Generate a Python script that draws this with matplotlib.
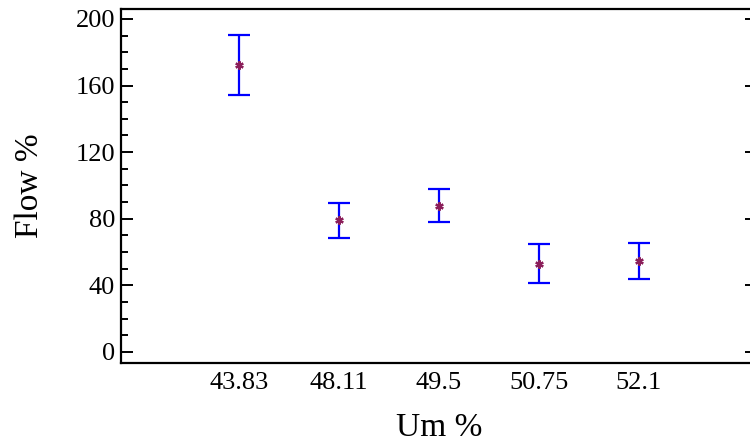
import matplotlib
matplotlib.use("Agg")
import matplotlib.pyplot as plt
from matplotlib.ticker import MultipleLocator

# Werte
um_labels = ["43.83", "48.11", "49.5", "50.75", "52.1"]
flow_mean = [172.5, 79.0, 87.4, 52.7, 54.8]
flow_low = [154.5, 68.2, 77.8, 41.6, 43.8]
flow_high = [190.5, 89.7, 98.1, 64.7, 65.6]

plt.rcParams["font.family"] = ["Liberation Serif", "DejaVu Serif"]

fig = plt.figure(figsize=(7.5, 4.47), dpi=100)
ax = fig.add_axes([0.161, 0.189, 0.848, 0.791])

x = list(range(len(um_labels)))
err_lo = [m - l for m, l in zip(flow_mean, flow_low)]
err_hi = [h - m for m, h in zip(flow_mean, flow_high)]

ax.errorbar(x, flow_mean, yerr=[err_lo, err_hi], fmt="none",
            ecolor="#0000ff", elinewidth=1.6, capsize=7.7, capthick=1.6)
ax.plot(x, flow_mean, linestyle="none", marker=(6, 2, 0), markersize=6,
        markeredgewidth=1.6, color="#8b1e5a", zorder=3)

ax.set_xlim(-1.18, 5.18)
ax.set_ylim(-6.4, 206)
ax.set_xticks(x)
ax.set_xticklabels(um_labels)
ax.yaxis.set_major_locator(MultipleLocator(40))
ax.yaxis.set_minor_locator(MultipleLocator(10))

ax.tick_params(axis="x", length=0, labelsize=19, pad=7)
ax.tick_params(axis="y", which="major", direction="in", length=8.6,
               width=1.4, labelsize=19, right=True, pad=4)
ax.tick_params(axis="y", which="minor", direction="in", length=5,
               width=1.4, right=False)

for sp in ax.spines.values():
    sp.set_linewidth(1.6)

ax.set_xlabel("Um %", fontsize=24, labelpad=13)
ax.set_ylabel("Flow %", fontsize=24, labelpad=22)

fig.savefig("out.png", dpi=100)
